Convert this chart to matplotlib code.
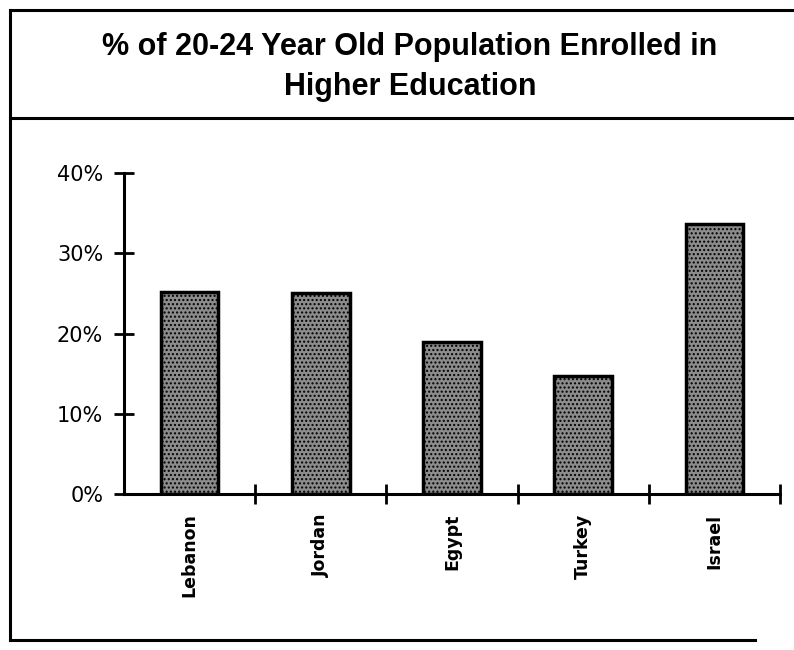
import numpy as np
import matplotlib.pyplot as plt
from matplotlib.lines import Line2D
from matplotlib.ticker import FixedLocator, FixedFormatter

countries = ['Lebanon', 'Jordan', 'Egypt', 'Turkey', 'Israel']
enrolled_pct = [25.2, 25.1, 19.0, 14.7, 33.6]
y_ticks = [0, 10, 20, 30, 40]
y_tick_labels = ['0%', '10%', '20%', '30%', '40%']
title = '% of 20-24 Year Old Population Enrolled in\nHigher Education'

W, H = 794, 650
plt.rcParams['hatch.color'] = '#d0d0d0'
fig = plt.figure(figsize=(W / 100, H / 100), dpi=100)

# frame round the whole chart and the title box
def fline(x0, y0, x1, y1, lw=2.2):
    fig.add_artist(Line2D([x0 / W, x1 / W], [1 - y0 / H, 1 - y1 / H],
                          transform=fig.transFigure, color='black', lw=lw))

fline(10, 10, 794, 10)
fline(10, 10, 10, 640)
fline(10, 118, 794, 118)
fline(10, 640, 755, 640)

fig.text(410 / W, 1 - 67 / H, title, ha='center', va='center',
         fontsize=22, fontweight='bold', family='Liberation Sans',
         linespacing=1.4)

ax = fig.add_axes([124 / W, 1 - 494 / H, (780 - 124) / W, (494 - 173) / H])
x = np.arange(len(countries))
ax.bar(x, enrolled_pct, width=0.44, color='#8c8c8c', edgecolor='black',
       linewidth=2.5, hatch='....')

ax.set_xlim(-0.5, len(countries) - 0.5)
ax.set_ylim(0, 40)
for s in ['top', 'right']:
    ax.spines[s].set_visible(False)
for s in ['left', 'bottom']:
    ax.spines[s].set_linewidth(2.2)

ax.set_yticks(y_ticks)
ax.set_yticklabels(y_tick_labels, fontsize=15, family='DejaVu Sans')
ax.tick_params(axis='y', direction='inout', length=14, width=2, pad=8)

# tick marks sit between the bars, names sit under them
ax.xaxis.set_major_locator(FixedLocator(x + 0.5))
ax.xaxis.set_major_formatter(FixedFormatter([''] * len(countries)))
ax.tick_params(axis='x', which='major', direction='inout', length=14, width=2)
ax.xaxis.set_minor_locator(FixedLocator(x))
ax.xaxis.set_minor_formatter(FixedFormatter(countries))
ax.tick_params(axis='x', which='minor', length=0, pad=14)
for lab in ax.xaxis.get_minorticklabels():
    lab.set_rotation(90)
    lab.set_fontsize(12.5)
    lab.set_fontweight('bold')
    lab.set_family('DejaVu Sans')
    lab.set_va('top')

fig.savefig('out.png', dpi=100, facecolor='white')
